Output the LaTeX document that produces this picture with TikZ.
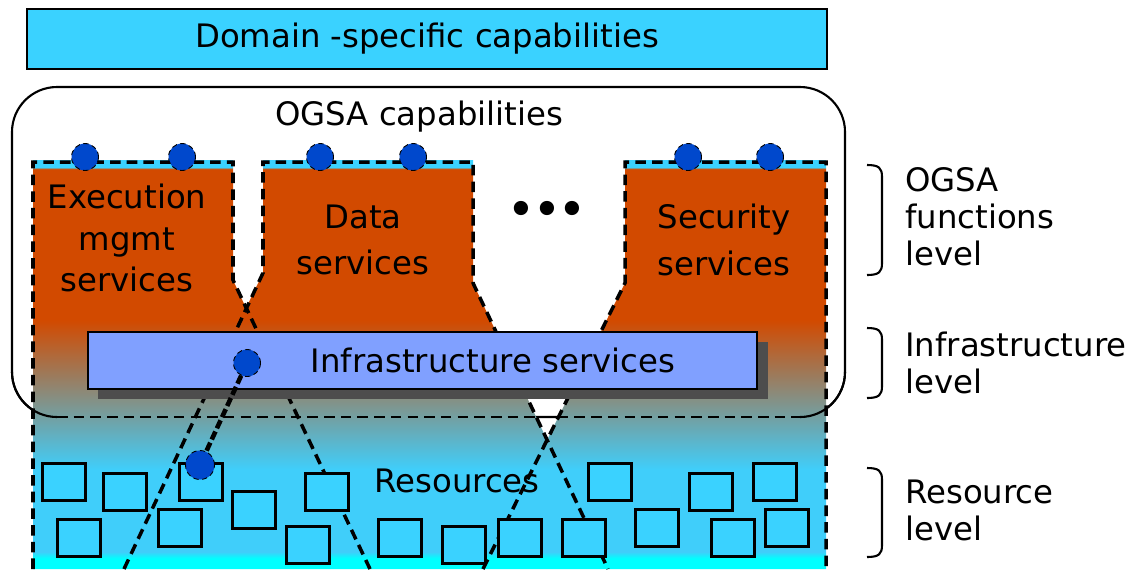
\documentclass[tikz,border=0pt]{standalone}
\usepackage{fontspec}
\setmainfont{DejaVu Sans}
\usepackage{tikz}
\usetikzlibrary{arrows.meta,positioning,calc}

\definecolor{domcyan}{RGB}{58,210,255}
\definecolor{ogsaorange}{RGB}{210,74,0}
\definecolor{rescyan}{RGB}{64,206,250}
\definecolor{aquaband}{RGB}{0,255,255}
\definecolor{infrablue}{RGB}{128,160,255}
\definecolor{portblue}{RGB}{0,72,204}
\definecolor{shadowgray}{RGB}{77,77,77}

% orange on top, cyan below (middle 50bp = the path)
\pgfdeclareverticalshading{ogsafill}{100bp}{color(0bp)=(aquaband); color(25bp)=(aquaband); color(26.3bp)=(aquaband); color(27.1bp)=(rescyan); color(37.2bp)=(rescyan); color(55.4bp)=(ogsaorange); color(73.9bp)=(ogsaorange); color(74.1bp)=(domcyan); color(100bp)=(domcyan)}

\begin{document}
\begin{tikzpicture}[x=0.02cm, y=-0.02cm, font=\fontsize{18.4}{23.8}\selectfont]
\tikzstyle{domainbox}=[draw, line width=1.6pt, fill=domcyan, minimum width=16cm, minimum height=1.2cm, inner sep=0pt]
\tikzstyle{infrabox}=[draw, line width=1.1pt, fill=infrablue, minimum width=13.38cm, minimum height=1.14cm, inner sep=0pt]
\tikzstyle{resbox}=[draw, line width=2pt, fill=domcyan, minimum width=0.86cm, minimum height=0.74cm, inner sep=0pt]
\tikzstyle{port}=[circle, draw, densely dashed, line width=0.5pt, fill=portblue, minimum size=0.54cm, inner sep=0pt]
\tikzstyle{dashline}=[line width=2pt, dash pattern=on 6pt off 3.5pt]
\tikzstyle{linkline}=[line width=2.6pt, dash pattern=on 5pt off 2pt]
\tikzstyle{lbl}=[inner sep=0pt, align=center]
\tikzstyle{sidelbl}=[inner sep=0pt, anchor=west, align=left, font=\fontsize{18.4}{21}\selectfont]

\useasboundingbox (0,0) rectangle (1138,569);
\fill[white] (0,0) rectangle (1138,569);

% top layer
\node[domainbox] (dom) at (427,39) {Domain -specific capabilities};

% OGSA capabilities frame
\draw[line width=1.2pt, fill=white, rounded corners=0.9cm] (12,87) rectangle (845,417);
\node[lbl] (ogsa) at (419,117) {OGSA capabilities};

% shaded service / resource area
\shade[shading=ogsafill] (33,569) -- (33,160) -- (233,160) -- (233,280) -- (246,308)
  -- (263,273) -- (263,160) -- (473,160) -- (473,283) -- (547,440) -- (625,283)
  -- (625,160) -- (826,160) -- (826,569) -- cycle;
\draw[dashline] (33,569) -- (33,162) -- (233,162) -- (233,280) -- (370,569);
\draw[dashline] (124,569) -- (263,273) -- (263,162) -- (473,162) -- (473,283) -- (608,569);
\draw[dashline] (483,569) -- (625,283) -- (625,162) -- (826,162) -- (826,569);

% bottom of the OGSA frame over the shading
\draw[line width=1.2pt] (12,372) arc[start angle=180, end angle=90, radius=45];
\draw[line width=1.2pt] (845,372) arc[start angle=0, end angle=90, radius=45];
\draw[dashline, line width=1.6pt] (57,417) -- (800,417);

% infrastructure
\fill[shadowgray] (98,342) rectangle (768,399);
\node[infrabox] (infra) at (422.5,360.5) {};
\node[lbl] (infratxt) at (493,360) {Infrastructure services};

% resources
\foreach \cx/\cy [count=\i] in {64/482, 125/492, 201/482, 254/510, 327/492, 79/538,
    180/528, 308/545, 400/538, 464/545, 520/538, 584/538, 610/482, 657/528,
    711/492, 775/482, 733/538, 787/528}
  \node[resbox] (r\i) at (\cx,\cy) {};
\node[lbl] (restxt) at (457,481) {Resources};

% service labels
\node[lbl] (exec) at (127,238) {Execution\\mgmt\\services};
\node[lbl, font=\fontsize{18.4}{26.6}\selectfont] (data) at (363,240) {Data\\services};
\node[lbl, font=\fontsize{18.4}{26.6}\selectfont] (sec) at (724,240) {Security\\services};
\node[lbl, font=\fontsize{23}{26}\selectfont\bfseries] (more) at (547,212) {•••};

% ports
\node[port] (pe1) at (85,157) {};
\node[port] (pe2) at (182,157) {};
\node[port] (pd1) at (320,157) {};
\node[port] (pd2) at (413,157) {};
\node[port] (ps1) at (688,157) {};
\node[port] (ps2) at (770,157) {};
\node[port] (pinfra) at (247,363) {};
\node[port, minimum size=0.58cm] (pres) at (200,465) {};
\draw[linkline] (pinfra) -- (pres);

% level brackets
\foreach \ya/\yb in {165/275, 328/398, 468/557}
  \draw[line width=1.2pt] (867,\ya) .. controls (879,\ya) and (882,\ya+3) .. (882,\ya+12)
    -- (882,\yb-12) .. controls (882,\yb-3) and (879,\yb) .. (867,\yb);
\node[sidelbl] (lvlfun) at (905,217) {OGSA\\functions\\level};
\node[sidelbl] (lvlinf) at (905,363) {Infrastructure\\level};
\node[sidelbl] (lvlres) at (905,510) {Resource\\level};
\end{tikzpicture}
\end{document}
